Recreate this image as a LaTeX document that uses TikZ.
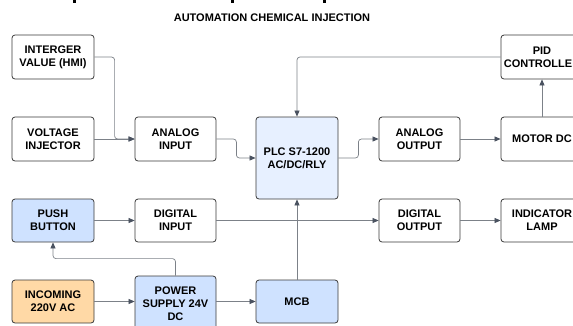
\documentclass[tikz,border=0pt]{standalone}
\usepackage{fontspec}
\setmainfont{Liberation Sans}
\usetikzlibrary{arrows.meta}
\definecolor{boxline}{HTML}{3A3A3A}
\definecolor{connline}{HTML}{7C8188}
\definecolor{tipcol}{HTML}{4A5260}
\definecolor{bluefill}{HTML}{CFE2FF}
\definecolor{plcfill}{HTML}{E7F0FF}
\definecolor{orangefill}{HTML}{FFD9A6}
\tikzset{
  blk/.style={draw=boxline, line width=0.8pt, rounded corners=3pt, fill=white,
    minimum width=82pt, minimum height=44pt, inner sep=0pt, align=center,
    font=\bfseries\fontsize{11}{13}\selectfont},
  conn/.style={draw=connline, line width=0.7pt, rounded corners=3pt,
    -{Triangle[length=6pt,width=5pt,color=tipcol]}},
  plain/.style={draw=connline, line width=0.7pt, rounded corners=3pt}
}
\begin{document}
\begin{tikzpicture}[x=1pt,y=-1pt]
\useasboundingbox (0,0) rectangle (573,325);
% cropped descenders of a title above the frame
\fill[black] (73,0) rectangle (76,3);
\fill[black] (231,0) rectangle (234,3);
\fill[black] (323,0) rectangle (326,3);
\node[font=\bfseries\fontsize{11}{13}\selectfont] (title) at (272,18) {AUTOMATION CHEMICAL INJECTION};
% row 1
\node[blk] (hmi) at (53,57) {INTERGER\\VALUE (HMI)};
\node[blk] (pid) at (542,57) {PID\\CONTROLLER};
% row 2
\node[blk] (vinj) at (53,139) {VOLTAGE\\INJECTOR};
\node[blk, minimum width=81pt] (ain) at (175.5,139) {ANALOG\\INPUT};
\node[blk, fill=plcfill, minimum height=82pt] (plc) at (297,158) {PLC S7-1200\\AC/DC/RLY};
\node[blk, minimum width=81pt] (aout) at (419.5,139) {ANALOG\\OUTPUT};
\node[blk] (motor) at (542,139) {MOTOR DC};
% row 3
\node[blk, fill=bluefill, minimum height=43pt] (push) at (53,220.5) {PUSH\\BUTTON};
\node[blk, minimum width=81pt, minimum height=43pt] (din) at (175.5,220.5) {DIGITAL\\INPUT};
\node[blk, minimum width=81pt, minimum height=43pt] (dout) at (419.5,220.5) {DIGITAL\\OUTPUT};
\node[blk, minimum height=43pt] (lamp) at (542,220.5) {INDICATOR\\LAMP};
% row 4
\node[blk, fill=orangefill, minimum height=43pt] (in220) at (53,301.5) {INCOMING\\220V AC};
\node[blk, fill=bluefill, minimum width=81pt, minimum height=56pt] (psu) at (175.5,304) {POWER\\SUPPLY 24V\\DC};
\node[blk, fill=bluefill, minimum height=43pt] (mcb) at (297,301.5) {MCB};
% connectors
\draw[conn] (hmi.east) -| ([xshift=-20pt]ain.west) -- (ain.west);
\draw[conn] (vinj.east) -- (ain.west);
\draw[conn] (ain.east) -- ++(20,0) |- (plc.west);
\draw[conn] (plc.east) -- ++(20,0) |- (aout.west);
\draw[conn] (aout.east) -- (motor.west);
\draw[conn] (motor.north) -- (pid.south);
\draw[conn] (pid.west) -| (plc.north);
\draw[conn] (push.east) -- (din.west);
\draw[conn] (din.east) -- (dout.west);
\draw[conn] (dout.east) -- (lamp.west);
\draw[conn] (in220.east) -- (in220.east -| psu.west);
\draw[conn] (mcb.west -| psu.east) -- (mcb.west);
\draw[conn] (psu.north) -- ++(0,-17) -| (push.south);
\draw[conn] (mcb.north) -- (plc.south);
\end{tikzpicture}
\end{document}
